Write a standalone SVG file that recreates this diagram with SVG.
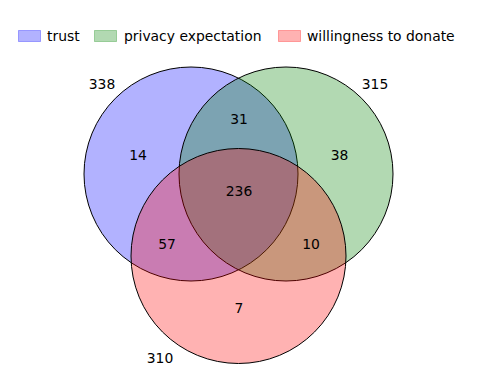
<svg xmlns="http://www.w3.org/2000/svg" width="478" height="384" viewBox="0 0 478 384">
<style>
text{font-family:"DejaVu Sans","Noto Sans",sans-serif;font-size:13.9px;fill:#000}
.lbl{text-anchor:middle}
.c{stroke:#000;stroke-width:1;fill-opacity:0.3}
.p{stroke-width:1;fill-opacity:0.3;stroke-opacity:0.3}
</style>
<rect width="478" height="384" fill="#fff"/>
<g id="legend">
<rect class="p" x="18.5" y="30.5" width="22" height="11" fill="#0000ff" stroke="#0000ff"/>
<text x="47" y="41">trust</text>
<rect class="p" x="94.5" y="30.5" width="22" height="11" fill="#008000" stroke="#008000"/>
<text x="124" y="41">privacy expectation</text>
<rect class="p" x="278.5" y="30.5" width="22" height="11" fill="#ff0000" stroke="#ff0000"/>
<text x="307" y="41">willingness to donate</text>
</g>
<g id="trust"><circle class="c" cx="191" cy="174" r="107" fill="#0000ff"/></g>
<g id="privacy"><circle class="c" cx="286" cy="174" r="107" fill="#008000"/></g>
<g id="donate"><circle class="c" cx="238.5" cy="256" r="107.5" fill="#ff0000"/></g>
<g id="labels" class="lbl">
<text class="lbl" x="102" y="89">338</text>
<text class="lbl" x="375" y="89">315</text>
<text class="lbl" x="160" y="363">310</text>
<text class="lbl" x="138" y="160">14</text>
<text class="lbl" x="239" y="124">31</text>
<text class="lbl" x="339.5" y="160">38</text>
<text class="lbl" x="239" y="196">236</text>
<text class="lbl" x="167" y="249">57</text>
<text class="lbl" x="311" y="249">10</text>
<text class="lbl" x="239" y="313">7</text>
</g>
</svg>
